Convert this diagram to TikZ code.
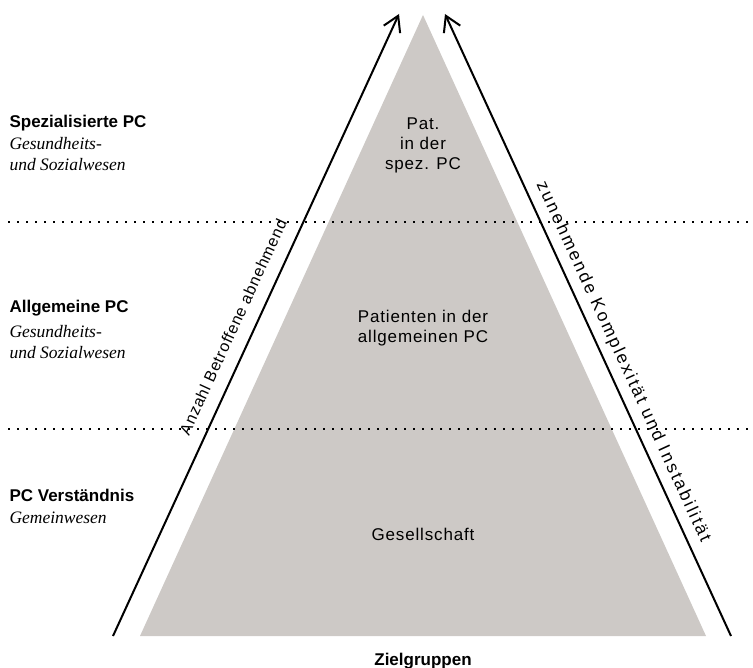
\documentclass[tikz,border=0pt]{standalone}
\usepackage{fontspec}
\setmainfont{Liberation Serif}
\setsansfont{Liberation Sans}
\newfontfamily\spacedsans[LetterSpace=5]{Liberation Sans}
\newfontfamily\widesans[LetterSpace=13]{Liberation Sans}
\usepackage{tikz}
\usetikzlibrary{arrows.meta}
\definecolor{pyramidgray}{RGB}{205,201,198}

\begin{document}
\begin{tikzpicture}[x=1pt,y=1pt,yscale=-1,xscale=1,
    levelhead/.style={anchor=west,font=\sffamily\bfseries\fontsize{17}{20}\selectfont},
    levelsub/.style={anchor=west,align=left,font=\itshape\fontsize{17.5}{21}\selectfont},
    inlabel/.style={align=center,font=\spacedsans\fontsize{17}{20}\selectfont},
    trendlabel/.style={font=\spacedsans\fontsize{16}{18}\selectfont,inner sep=0pt},
    trend/.style={line width=2,-{Straight Barb[length=15pt,width=18pt]}},
    separator/.style={line width=1.8,dash pattern=on 1.8pt off 7.2pt}]
    \useasboundingbox (0,0) rectangle (753,668);
    
    % pyramid
    \coordinate (apex) at (423,15);
    \coordinate (baseL) at (140,636);
    \coordinate (baseR) at (706,636);
    \fill [pyramidgray] (apex) -- (baseL) -- (baseR) -- cycle;
    
    % level borders
    \coordinate (sepA-l) at (8,222);
    \coordinate (sepA-r) at (753,222);
    \coordinate (sepB-l) at (8,429);
    \coordinate (sepB-r) at (753,429);
    \draw [separator] (sepA-l) -- (sepA-r);
    \draw [separator] (sepB-l) -- (sepB-r);
    
    % side arrows
    \coordinate (arrL-start) at (113,636);
    \coordinate (arrL-end) at (399,14);
    \coordinate (arrR-start) at (731,636);
    \coordinate (arrR-end) at (445,14);
    \draw [trend] (arrL-start) -- (arrL-end);
    \draw [trend] (arrR-start) -- (arrR-end);
    \node [trendlabel,rotate=65.3] (anzahl) at (233,327) {Anzahl Betroffene abnehmend};
    \node [trendlabel,font=\widesans\fontsize{17.5}{20}\selectfont,rotate=-65.3] (komplex) at (623,362) {zunehmende Komplexität und Instabilität};
    
    % texts in the pyramid
    \node [inlabel] (spez) at (423,145) {Pat.\\in der\\spez. PC};
    \node [inlabel] (allg) at (423,328) {Patienten in der\\allgemeinen PC};
    \node [inlabel] (gesell) at (423,534) {Gesellschaft};
    
    % level names
    \node [levelhead] (spezHead) at (6,123) {Spezialisierte PC};
    \node [levelsub] (spezSub) at (6,154) {Gesundheits-\\und Sozialwesen};
    \node [levelhead] (allgHead) at (6,308) {Allgemeine PC};
    \node [levelsub] (allgSub) at (6,342) {Gesundheits-\\und Sozialwesen};
    \node [levelhead] (pcHead) at (6,495) {PC Verständnis};
    \node [levelsub] (pcSub) at (6,518) {Gemeinwesen};
    
    \node [font=\sffamily\bfseries\fontsize{17}{20}\selectfont] (ziel) at (423,661) {Zielgruppen};
    
\end{tikzpicture}
\end{document}
